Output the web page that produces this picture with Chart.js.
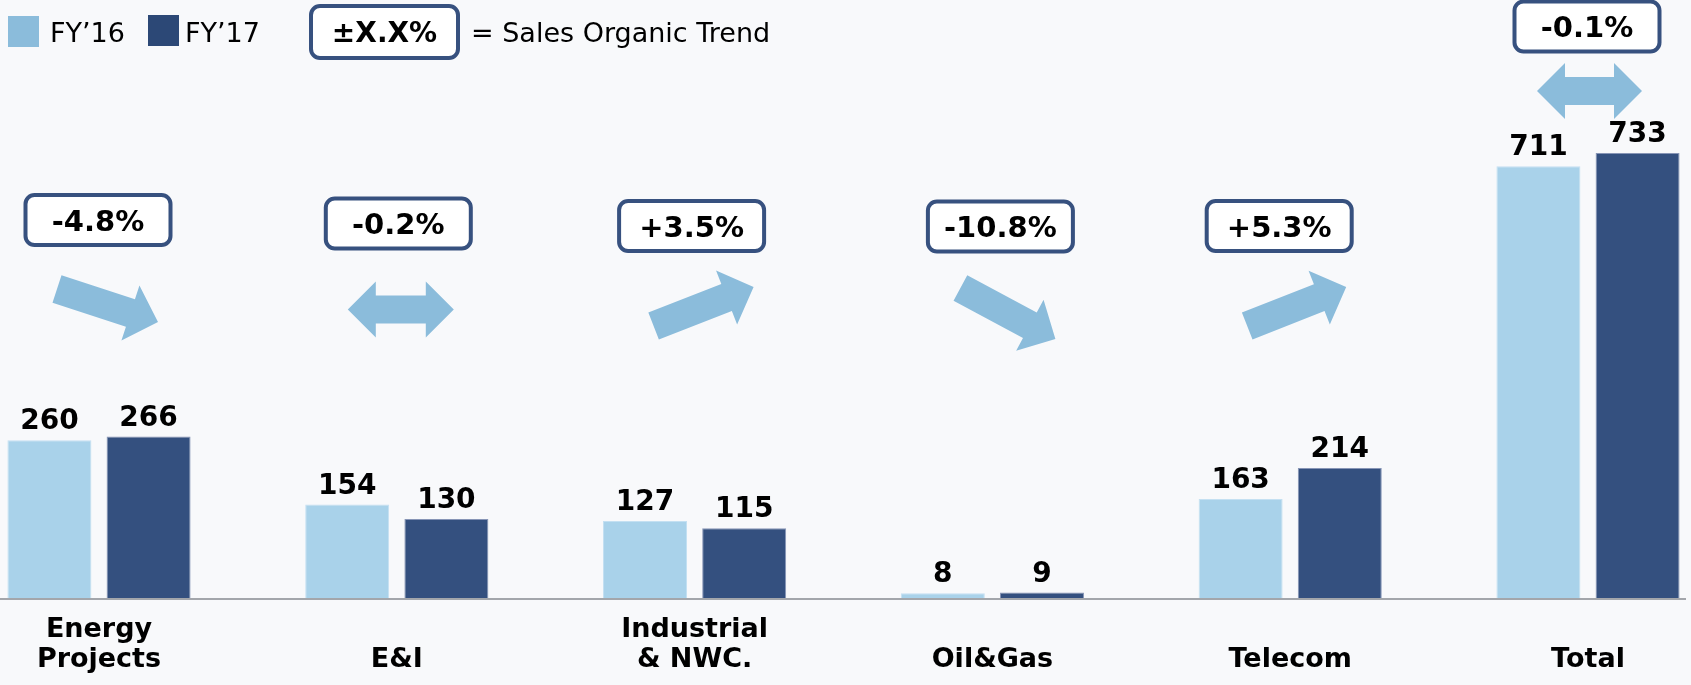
<!DOCTYPE html>
<html>
<head>
<meta charset="utf-8">
<title>Sales by segment FY'16 vs FY'17</title>
<script src="https://cdn.jsdelivr.net/npm/chart.js@4/dist/chart.umd.min.js"></script>
<style>
    html, body { margin: 0; padding: 0; background: #f8f9fb; }
    #wrap { width: 1691px; height: 685px; }
</style>
</head>
<body>
<div id="wrap"><canvas id="sales-chart" width="1691" height="685"></canvas></div>
<script>
// ---------------------------------------------------------------------------
// Data
// ---------------------------------------------------------------------------
const CATEGORIES   = [["Energy", "Projects"], ["", "E&I"], ["Industrial", "& NWC."], ["", "Oil&Gas"], ["", "Telecom"], ["", "Total"]];
const SERIES_NAMES = ["FY\u201916", "FY\u201917"];
const FY16_VALUES  = [260, 154, 127, 8, 163, 711];
const FY17_VALUES  = [266, 130, 115, 9, 214, 733];
const TREND_LABELS = ["-4.8%", "-0.2%", "+3.5%", "-10.8%", "+5.3%", "-0.1%"];
const TREND_DIRS   = ["down", "flat", "up", "down", "up", "flat"];

// ---------------------------------------------------------------------------
// Look & feel
// ---------------------------------------------------------------------------
const FONT       = "'DejaVu Sans', Verdana, sans-serif";
const LIGHT      = "#a9d2ea";
const DARK       = "#34507f";
const ARROW_FILL = "#8bbcdb";
const BOX_EDGE   = "#37517f";

// Trend badge + arrow placement, relative to each category centre (px)
const TREND_LAYOUT = [
    { dx: -1,  boxY: 220,   tail: [-42, 289],  tip: [59, 322] },
    { dx: 1.5, boxY: 223.5, span: [-49, 57],   y: 309.5 },
    { dx: -3,  boxY: 226,   tail: [-41, 326],  tip: [59, 287] },
    { dx: 8,   boxY: 226.5, tail: [-32, 288],  tip: [63, 339] },
    { dx: -11, boxY: 226,   tail: [-43, 326],  tip: [56, 287] },
    { dx: -1,  boxY: 26.5,  span: [-51, 54],   y: 91 },
];

function roundBox(ctx, cx, cy, w, h, r) {
    const x = cx - w / 2, y = cy - h / 2;
    ctx.beginPath();
    ctx.roundRect(x, y, w, h, r);
    ctx.fillStyle = "#ffffff";
    ctx.fill();
    ctx.lineWidth = 4;
    ctx.strokeStyle = BOX_EDGE;
    ctx.stroke();
}

function arrow(ctx, x0, y0, x1, y1, shaft, head, headLen) {
    const len = Math.hypot(x1 - x0, y1 - y0);
    ctx.save();
    ctx.translate(x0, y0);
    ctx.rotate(Math.atan2(y1 - y0, x1 - x0));
    ctx.beginPath();
    ctx.moveTo(0, -shaft / 2);
    ctx.lineTo(len - headLen, -shaft / 2);
    ctx.lineTo(len - headLen, -head / 2);
    ctx.lineTo(len, 0);
    ctx.lineTo(len - headLen, head / 2);
    ctx.lineTo(len - headLen, shaft / 2);
    ctx.lineTo(0, shaft / 2);
    ctx.closePath();
    ctx.fillStyle = ARROW_FILL;
    ctx.fill();
    ctx.restore();
}

function doubleArrow(ctx, xl, xr, y, shaft, head, headLen) {
    ctx.beginPath();
    ctx.moveTo(xl, y);
    ctx.lineTo(xl + headLen, y - head / 2);
    ctx.lineTo(xl + headLen, y - shaft / 2);
    ctx.lineTo(xr - headLen, y - shaft / 2);
    ctx.lineTo(xr - headLen, y - head / 2);
    ctx.lineTo(xr, y);
    ctx.lineTo(xr - headLen, y + head / 2);
    ctx.lineTo(xr - headLen, y + shaft / 2);
    ctx.lineTo(xl + headLen, y + shaft / 2);
    ctx.lineTo(xl + headLen, y + head / 2);
    ctx.closePath();
    ctx.fillStyle = ARROW_FILL;
    ctx.fill();
}

// ---------------------------------------------------------------------------
// Overlay: baseline, value labels, trend badges/arrows, legend
// ---------------------------------------------------------------------------
const overlayPlugin = {
    id: "overlay",
    afterDatasetsDraw(chart) {
        const ctx = chart.ctx;
        const xScale = chart.scales.x;
        const bottom = chart.chartArea.bottom;

        ctx.save();

        // axis line across the full width
        ctx.beginPath();
        ctx.moveTo(0, bottom + 1);
        ctx.lineTo(1686, bottom + 1);
        ctx.lineWidth = 2;
        ctx.strokeStyle = "#a3a6ab";
        ctx.stroke();

        // value labels above each bar
        ctx.fillStyle = "#000";
        ctx.font = "bold 28px " + FONT;
        ctx.textAlign = "center";
        ctx.textBaseline = "alphabetic";
        chart.data.datasets.forEach((ds, di) => {
            chart.getDatasetMeta(di).data.forEach((bar, i) => {
                ctx.fillText(String(ds.data[i]), bar.x, bar.y - 11);
            });
        });

        // trend badges and arrows
        TREND_LABELS.forEach((label, i) => {
            const cx = xScale.getPixelForValue(i);
            const lay = TREND_LAYOUT[i];
            roundBox(ctx, cx + lay.dx, lay.boxY, 145, 50, 9);
            ctx.fillStyle = "#000";
            ctx.font = "bold 29px " + FONT;
            ctx.textAlign = "center";
            ctx.fillText(label, cx + lay.dx, lay.boxY + 10.5);

            if (TREND_DIRS[i] === "flat") {
                doubleArrow(ctx, cx + lay.span[0], cx + lay.span[1], lay.y, 28, 56, 28);
            } else {
                arrow(ctx, cx + lay.tail[0], lay.tail[1], cx + lay.tip[0], lay.tip[1], 29, 58, 29);
            }
        });

        // legend
        ctx.textAlign = "left";
        ctx.font = "27px " + FONT;
        ctx.fillStyle = "#8bbcdb";
        ctx.fillRect(8, 16, 31, 31);
        ctx.fillStyle = "#2c4876";
        ctx.fillRect(148, 15, 31, 31);
        ctx.fillStyle = "#000";
        ctx.fillText(SERIES_NAMES[0], 50, 42);
        ctx.fillText(SERIES_NAMES[1], 185, 42);

        roundBox(ctx, 384.5, 32, 147, 52, 9);
        ctx.fillStyle = "#000";
        ctx.font = "bold 28px " + FONT;
        ctx.textAlign = "center";
        ctx.fillText("\u00b1X.X%", 384.5, 42);
        ctx.font = "27px " + FONT;
        ctx.textAlign = "left";
        ctx.fillText("= Sales Organic Trend", 471, 42);

        ctx.restore();
    }
};

// ---------------------------------------------------------------------------
// Chart
// ---------------------------------------------------------------------------
new Chart(document.getElementById("sales-chart").getContext("2d"), {
    type: "bar",
    data: {
        labels: CATEGORIES,
        datasets: [
            {
                label: SERIES_NAMES[0],
                data: FY16_VALUES,
                backgroundColor: LIGHT,
                borderColor: "#c4e0f2",
                borderWidth: 1,
                clip: false,
            },
            {
                label: SERIES_NAMES[1],
                data: FY17_VALUES,
                backgroundColor: DARK,
                borderColor: "#8795b6",
                borderWidth: 1,
                clip: false,
            },
        ],
    },
    options: {
        responsive: false,
        animation: false,
        events: [],
        categoryPercentage: 0.666,
        barPercentage: 0.847,
        layout: { padding: { left: 99, right: 103, top: 0, bottom: 0 } },
        plugins: {
            legend: { display: false },
            tooltip: { enabled: false },
        },
        scales: {
            x: {
                offset: false,
                grid: { display: false, drawTicks: false },
                border: { display: false },
                ticks: {
                    autoSkip: false,
                    maxRotation: 0,
                    padding: 17,
                    color: "#000",
                    font: { family: FONT, size: 27, weight: "bold", lineHeight: 1.111 },
                },
                afterFit(scale) { scale.height = 87; },
            },
            y: { display: false, min: 0, max: 985 },
        },
    },
    plugins: [overlayPlugin],
});
</script>
</body>
</html>
